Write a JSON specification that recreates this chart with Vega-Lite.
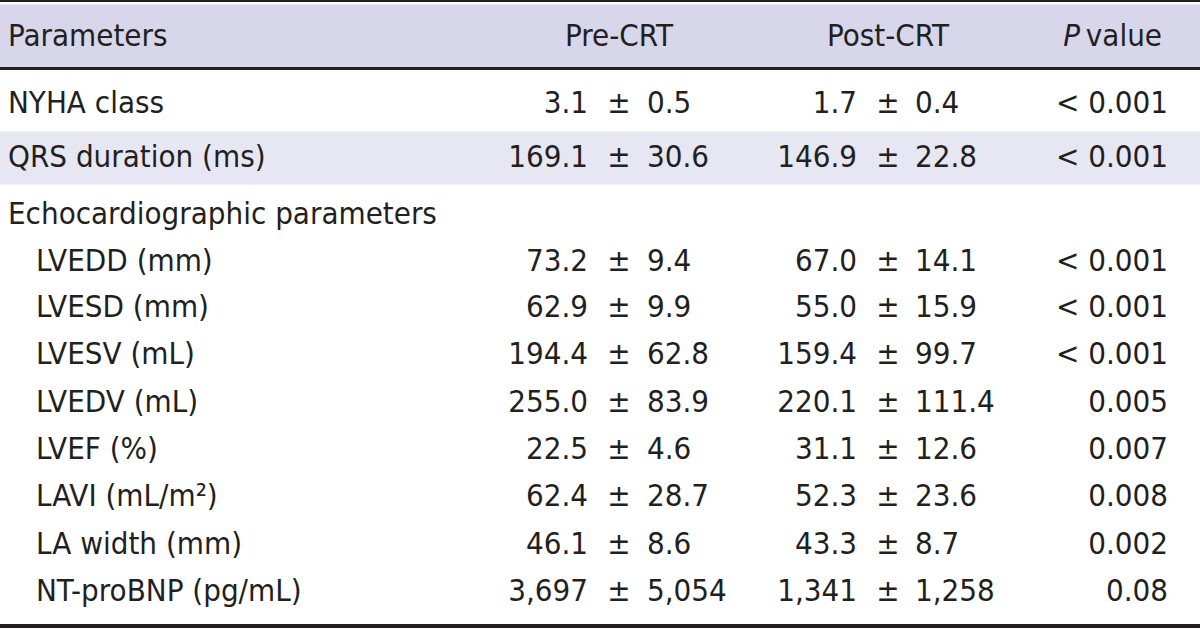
{
  "$schema": "https://vega.github.io/schema/vega-lite/v6.json",
  "width": 1200,
  "height": 629,
  "padding": 0,
  "autosize": "none",
  "background": "white",
  "config": {
    "view": {"stroke": null},
    "text": {"font": "DejaVu Sans Condensed", "fontSize": 31, "color": "#231f20", "baseline": "middle"}
  },
  "datasets": {
    "head": [
      {"param": "Parameters", "pre": "Pre-CRT", "post": "Post-CRT", "p_italic": "P", "p_rest": "value"}
    ],
    "rows": [
      {"row": 1, "param": "NYHA class", "level": 0, "pre_mean": "3.1", "pre_sd": "0.5", "post_mean": "1.7", "post_sd": "0.4", "p": "< 0.001"},
      {"row": 2, "param": "QRS duration (ms)", "level": 0, "pre_mean": "169.1", "pre_sd": "30.6", "post_mean": "146.9", "post_sd": "22.8", "p": "< 0.001"},
      {"row": 3, "param": "Echocardiographic parameters", "level": 0},
      {"row": 4, "param": "LVEDD (mm)", "level": 1, "pre_mean": "73.2", "pre_sd": "9.4", "post_mean": "67.0", "post_sd": "14.1", "p": "< 0.001"},
      {"row": 5, "param": "LVESD (mm)", "level": 1, "pre_mean": "62.9", "pre_sd": "9.9", "post_mean": "55.0", "post_sd": "15.9", "p": "< 0.001"},
      {"row": 6, "param": "LVESV (mL)", "level": 1, "pre_mean": "194.4", "pre_sd": "62.8", "post_mean": "159.4", "post_sd": "99.7", "p": "< 0.001"},
      {"row": 7, "param": "LVEDV (mL)", "level": 1, "pre_mean": "255.0", "pre_sd": "83.9", "post_mean": "220.1", "post_sd": "111.4", "p": "0.005"},
      {"row": 8, "param": "LVEF (%)", "level": 1, "pre_mean": "22.5", "pre_sd": "4.6", "post_mean": "31.1", "post_sd": "12.6", "p": "0.007"},
      {"row": 9, "param": "LAVI (mL/m²)", "level": 1, "pre_mean": "62.4", "pre_sd": "28.7", "post_mean": "52.3", "post_sd": "23.6", "p": "0.008"},
      {"row": 10, "param": "LA width (mm)", "level": 1, "pre_mean": "46.1", "pre_sd": "8.6", "post_mean": "43.3", "post_sd": "8.7", "p": "0.002"},
      {"row": 11, "param": "NT-proBNP (pg/mL)", "level": 1, "pre_mean": "3,697", "pre_sd": "5,054", "post_mean": "1,341", "post_sd": "1,258", "p": "0.08"}
    ]
  },
  "resolve": {"scale": {"x": "shared", "y": "shared"}},
  "encoding": {
    "y": {
      "type": "quantitative",
      "axis": null,
      "scale": {
        "domain": [-0.5, 0, 0.5, 1, 2, 3, 4, 5, 6, 7, 8, 9, 10, 11, 11.5],
        "range": [1, 37, 68.5, 104, 158, 215, 262, 308, 355, 403, 450, 497, 545, 592, 626],
        "nice": false, "zero": false, "clamp": false
      }
    },
    "x": {
      "type": "quantitative",
      "axis": null,
      "scale": {
        "domain": [0, 1, 2, 3, 4, 5, 6, 7, 8],
        "range": [8, 36, 588, 619, 647, 857, 888, 915, 1168],
        "nice": false, "zero": false
      }
    }
  },
  "layer": [
    {
      "data": {"name": "head"},
      "mark": {"type": "rule", "strokeWidth": 65, "color": "#d7d6ea"},
      "encoding": {"y": {"datum": 0}}
    },
    {
      "data": {"name": "rows"},
      "transform": [{"filter": "datum.row === 2"}],
      "mark": {"type": "rule", "strokeWidth": 53, "color": "#e7e6f3"},
      "encoding": {"y": {"field": "row"}}
    },
    {
      "data": {"name": "head"},
      "mark": {"type": "rule", "strokeWidth": 2, "color": "#231f20"},
      "encoding": {"y": {"datum": -0.5}}
    },
    {
      "data": {"name": "head"},
      "mark": {"type": "rule", "strokeWidth": 3, "color": "#231f20"},
      "encoding": {"y": {"datum": 0.5}}
    },
    {
      "data": {"name": "head"},
      "mark": {"type": "rule", "strokeWidth": 4, "color": "#231f20"},
      "encoding": {"y": {"datum": 11.5}}
    },
    {
      "data": {"name": "head"},
      "mark": {"type": "text", "align": "left"},
      "encoding": {"y": {"datum": 0}, "x": {"datum": 0}, "text": {"field": "param"}}
    },
    {
      "data": {"name": "head"},
      "mark": {"type": "text", "align": "center"},
      "encoding": {"y": {"datum": 0}, "x": {"datum": 3}, "text": {"field": "pre"}}
    },
    {
      "data": {"name": "head"},
      "mark": {"type": "text", "align": "center"},
      "encoding": {"y": {"datum": 0}, "x": {"datum": 6}, "text": {"field": "post"}}
    },
    {
      "data": {"name": "head"},
      "mark": {"type": "text", "align": "right", "dx": -6},
      "encoding": {"y": {"datum": 0}, "x": {"datum": 8}, "text": {"field": "p_rest"}}
    },
    {
      "data": {"name": "head"},
      "mark": {"type": "text", "align": "right", "dx": -88, "fontStyle": "italic"},
      "encoding": {"y": {"datum": 0}, "x": {"datum": 8}, "text": {"field": "p_italic"}}
    },
    {
      "data": {"name": "rows"},
      "mark": {"type": "text", "align": "left"},
      "encoding": {"y": {"field": "row"}, "x": {"field": "level"}, "text": {"field": "param"}}
    },
    {
      "data": {"name": "rows"},
      "transform": [{"filter": "isValid(datum.pre_mean)"}],
      "mark": {"type": "text", "align": "right"},
      "encoding": {"y": {"field": "row"}, "x": {"datum": 2}, "text": {"field": "pre_mean"}}
    },
    {
      "data": {"name": "rows"},
      "transform": [{"filter": "isValid(datum.pre_mean)"}],
      "mark": {"type": "text", "align": "center"},
      "encoding": {"y": {"field": "row"}, "x": {"datum": 3}, "text": {"value": "±"}}
    },
    {
      "data": {"name": "rows"},
      "transform": [{"filter": "isValid(datum.pre_sd)"}],
      "mark": {"type": "text", "align": "left"},
      "encoding": {"y": {"field": "row"}, "x": {"datum": 4}, "text": {"field": "pre_sd"}}
    },
    {
      "data": {"name": "rows"},
      "transform": [{"filter": "isValid(datum.post_mean)"}],
      "mark": {"type": "text", "align": "right"},
      "encoding": {"y": {"field": "row"}, "x": {"datum": 5}, "text": {"field": "post_mean"}}
    },
    {
      "data": {"name": "rows"},
      "transform": [{"filter": "isValid(datum.post_mean)"}],
      "mark": {"type": "text", "align": "center"},
      "encoding": {"y": {"field": "row"}, "x": {"datum": 6}, "text": {"value": "±"}}
    },
    {
      "data": {"name": "rows"},
      "transform": [{"filter": "isValid(datum.post_sd)"}],
      "mark": {"type": "text", "align": "left"},
      "encoding": {"y": {"field": "row"}, "x": {"datum": 7}, "text": {"field": "post_sd"}}
    },
    {
      "data": {"name": "rows"},
      "transform": [{"filter": "isValid(datum.p)"}],
      "mark": {"type": "text", "align": "right"},
      "encoding": {"y": {"field": "row"}, "x": {"datum": 8}, "text": {"field": "p"}}
    }
  ]
}
